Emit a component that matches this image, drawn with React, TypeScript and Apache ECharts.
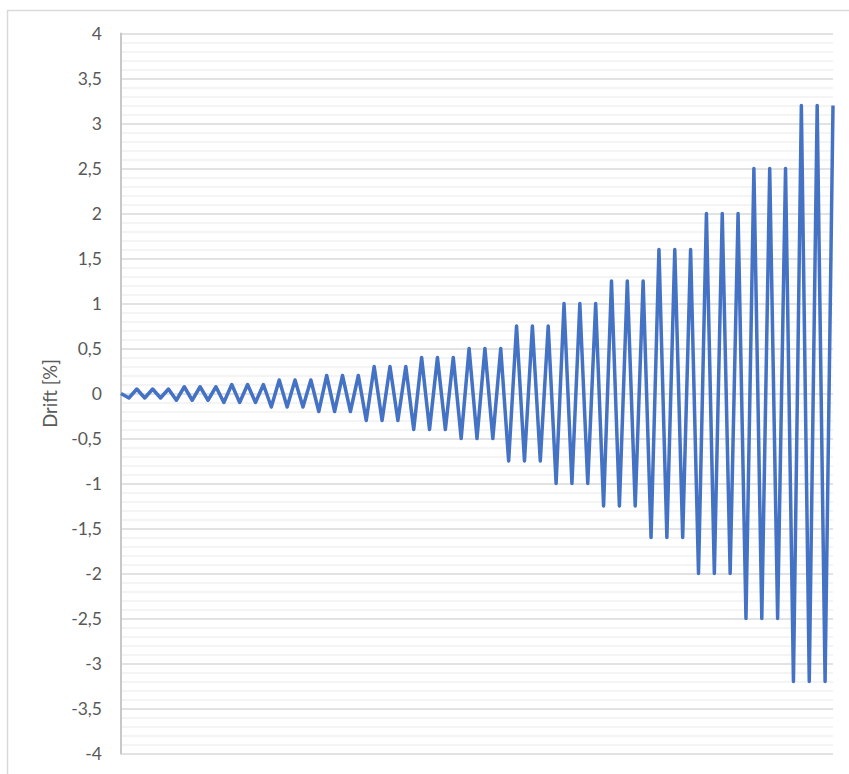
import React, { useEffect, useRef } from "react";
import * as echarts from "echarts";

// Cyclic drift protocol: 15 amplitude levels, 3 cycles each (trough then peak)
const amplitudeLevels = [0.05, 0.075, 0.1, 0.15, 0.2, 0.3, 0.4, 0.5, 0.75, 1.0, 1.25, 1.6, 2.0, 2.5, 3.2];

const drift = [
  0,
  -0.05, 0.05, -0.05, 0.05, -0.05, 0.05,
  -0.075, 0.075, -0.075, 0.075, -0.075, 0.075,
  -0.1, 0.1, -0.1, 0.1, -0.1, 0.1,
  -0.15, 0.15, -0.15, 0.15, -0.15, 0.15,
  -0.2, 0.2, -0.2, 0.2, -0.2, 0.2,
  -0.3, 0.3, -0.3, 0.3, -0.3, 0.3,
  -0.4, 0.4, -0.4, 0.4, -0.4, 0.4,
  -0.5, 0.5, -0.5, 0.5, -0.5, 0.5,
  -0.75, 0.75, -0.75, 0.75, -0.75, 0.75,
  -1.0, 1.0, -1.0, 1.0, -1.0, 1.0,
  -1.25, 1.25, -1.25, 1.25, -1.25, 1.25,
  -1.6, 1.6, -1.6, 1.6, -1.6, 1.6,
  -2.0, 2.0, -2.0, 2.0, -2.0, 2.0,
  -2.5, 2.5, -2.5, 2.5, -2.5, 2.5,
  -3.2, 3.2, -3.2, 3.2, -3.2, 3.2,
];

const steps = drift.map((_, i) => String(i));

const yMin = -4;
const yMax = 4;
const yInterval = 0.5;
const yTitle = "Drift [%]";

export default function App() {
  const ref = useRef<HTMLDivElement>(null);

  useEffect(() => {
    if (!ref.current) return;
    const chart = echarts.init(ref.current, null, { renderer: "svg" });
    const fontFamily = "Lato, 'Open Sans', sans-serif";
    chart.setOption({
      animation: false,
      backgroundColor: "#ffffff",
      graphic: [
        {
          type: "rect",
          shape: { x: 7.5, y: 10.5, width: 900, height: 900 },
          style: { fill: "none", stroke: "#d9d9d9", lineWidth: 1.5 },
          silent: true,
          z: 0,
        },
      ],
      grid: { left: 121, right: 16, top: 33.5, bottom: 20.5, containLabel: false },
      xAxis: {
        type: "category",
        data: steps,
        boundaryGap: false,
        axisLine: { show: false },
        axisTick: { show: false },
        axisLabel: { show: false },
        splitLine: { show: false },
      },
      yAxis: {
        type: "value",
        min: yMin,
        max: yMax,
        interval: yInterval,
        name: yTitle,
        nameLocation: "middle",
        nameGap: 62,
        nameRotate: 90,
        nameTextStyle: { color: "#595959", fontSize: 18.5, fontFamily },
        axisLine: { show: true, lineStyle: { color: "#c8c8c8", width: 2 } },
        axisTick: { show: false },
        axisLabel: {
          color: "#595959",
          fontSize: 17.5,
          fontFamily,
          margin: 19,
          formatter: (v: number) => String(v).replace(".", ","),
        },
        splitLine: { show: true, lineStyle: { color: "#d9d9d9", width: 1.5 } },
        minorTick: { show: false, splitNumber: 5 },
        minorSplitLine: { show: true, lineStyle: { color: "#f0f0f0", width: 1.5 } },
      },
      series: [
        {
          type: "line",
          data: drift,
          showSymbol: false,
          symbol: "none",
          lineStyle: { color: "#4472C4", width: 3.5, join: "round" },
          z: 5,
        },
      ],
    });
    return () => chart.dispose();
  }, []);

  return (
    <div
      ref={ref}
      style={{ position: "fixed", left: 0, top: 0, width: 849, height: 774, background: "#fff" }}
    />
  );
}
